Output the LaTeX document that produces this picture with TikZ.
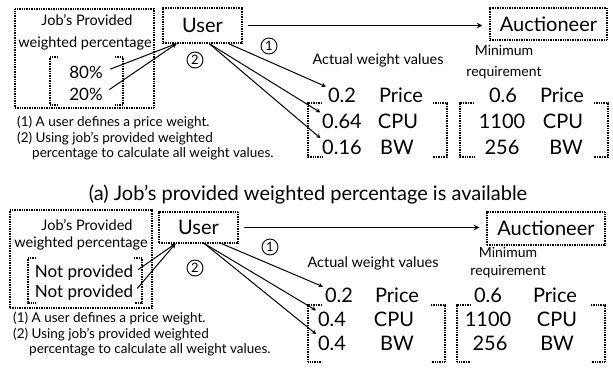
\documentclass[tikz,border=0pt]{standalone}
\usepackage{fontspec}
\setmainfont{Lato}
\usetikzlibrary{positioning,arrows,calc}

\newcommand{\drawbrackets}[2]{%
  \draw[brk] ([xshift=#2]#1.north west) -- (#1.north west) -- (#1.south west) -- ([xshift=#2]#1.south west);
  \draw[brk] ([xshift=-#2]#1.north east) -- (#1.north east) -- (#1.south east) -- ([xshift=-#2]#1.south east);}

\begin{document}
\begin{tikzpicture}[x=1pt,y=-1pt,
dotbox/.style={draw, line width=1.1pt, dash pattern=on 1pt off 0.7pt},
brk/.style={line width=1.1pt, dash pattern=on 1pt off 0.7pt},
blank/.style={inner sep=0pt, outer sep=0pt},
big/.style={font=\fontsize{20}{24}\selectfont, inner sep=0pt},
mid/.style={font=\fontsize{17}{20}\selectfont, inner sep=0pt},
small/.style={font=\fontsize{14.5}{16}\selectfont, inner sep=0pt},
note/.style={font=\fontsize{13.5}{16}\selectfont, anchor=west, inner sep=0pt},
num/.style={circle, draw, line width=0.9pt, inner sep=0pt, minimum size=16pt, font=\fontsize{13}{13}\selectfont},
link/.style={-stealth, line width=1pt},
]
\useasboundingbox (0,0) rectangle (613,370);

% (a) weighted percentage given
\node[dotbox, blank, minimum width=139pt, minimum height=99pt] (jobA) at (84.5,58.5) {};
\node[small] (jobtA) at (87,20) {Job's Provided};
\node[small] (jobwA) at (85,43) {weighted percentage};
\node[blank, minimum width=73pt, minimum height=48pt] (pctA) at (86.5,81) {};
\drawbrackets{pctA}{8pt}
\node[mid] (pA1) at (86,72) {80\%};
\node[mid] (pA2) at (86,94) {20\%};
\node[dotbox, big, minimum width=79pt, minimum height=35pt] (userA) at (202.5,25.5) {User};
\node[dotbox, big, minimum width=117pt, minimum height=32pt] (aucA) at (548.5,24) {Auctioneer};
\draw[link, line width=1.5pt, shorten <=5pt, shorten >=7pt] (userA.east) -- (userA.east -| aucA.west);
\node[num] (oneA) at (269,46) {1};
\node[num] (twoA) at (195,60) {2};
\draw[link, shorten <=8pt] (pA1.east) -- (userA.215);
\draw[link, shorten <=8pt] (pA2.east) -- (userA.215);
\node[note] (noteA1) at (17,122) {(1) A user defines a price weight.};
\node[note] (noteA2) at (17,138) {(2) Using job's provided weighted};
\node[note] (noteA3) at (32,154) {percentage to calculate all weight values.};
\node[small] (actA) at (378,60) {Actual weight values};
\node[small, align=center, font=\fontsize{14}{21}\selectfont] (minA) at (504,62) {Minimum\\requirement};
\node[blank, minimum width=139pt, minimum height=54pt] (tabA) at (377.5,130) {};
\drawbrackets{tabA}{14pt}
\node[big] (vA1) at (342,95) {0.2};
\node[big] (kA1) at (401,95) {Price};
\node[big] (vA2) at (342,121) {0.64};
\node[big] (kA2) at (398,121) {CPU};
\node[big] (vA3) at (342,147) {0.16};
\node[big] (kA3) at (397,147) {BW};
\node[blank, minimum width=148pt, minimum height=54pt] (minTabA) at (534,130) {};
\drawbrackets{minTabA}{14pt}
\node[big] (mA1) at (503,95) {0.6};
\node[big] (mkA1) at (562,95) {Price};
\node[big] (mA2) at (502,121) {1100};
\node[big] (mkA2) at (563,121) {CPU};
\node[big] (mA3) at (502,147) {256};
\node[big] (mkA3) at (566,147) {BW};
\draw[link, shorten >=2pt] (userA.325) -- (vA1.north west);
\draw[link, shorten >=2pt] (userA.290) -- (vA2.north west);
\draw[link, shorten >=2pt] (userA.290) -- (vA3.north west);

\node[big] (capA) at (308,195) {(a) Job's provided weighted percentage is available};

% (b) weighted percentage not given
\node[dotbox, blank, minimum width=142pt, minimum height=98pt] (jobB) at (81,259) {};
\node[small] (jobtB) at (87,225) {Job's Provided};
\node[small] (jobwB) at (81,243) {weighted percentage};
\node[blank, minimum width=114pt, minimum height=45pt] (pctB) at (85,280.5) {};
\drawbrackets{pctB}{8pt}
\node[mid] (pB1) at (84,273) {Not provided};
\node[mid] (pB2) at (84,293) {Not provided};
\node[dotbox, big, minimum width=79pt, minimum height=31pt] (userB) at (198.5,227.5) {User};
\node[dotbox, big, minimum width=118pt, minimum height=33pt] (aucB) at (546,228.5) {Auctioneer};
\draw[link, line width=1.5pt, shorten <=5pt, shorten >=7pt] (userB.east) -- (userB.east -| aucB.west);
\node[num] (oneB) at (270,247) {1};
\node[num] (twoB) at (195,268) {2};
\draw[link, shorten <=6pt] (pB1.east) -- (userB.215);
\draw[link, shorten <=6pt] (pB2.east) -- (userB.215);
\node[note] (noteB1) at (13,318) {(1) A user defines a price weight.};
\node[note] (noteB2) at (13,334) {(2) Using job's provided weighted};
\node[note] (noteB3) at (29,350) {percentage to calculate all weight values.};
\node[small] (actB) at (373,263) {Actual weight values};
\node[small, align=center, font=\fontsize{14}{18}\selectfont] (minB) at (508,263) {Minimum\\requirement};
\node[blank, minimum width=137pt, minimum height=57pt] (tabB) at (376.5,333.5) {};
\drawbrackets{tabB}{14pt}
\node[big] (vB1) at (339,295) {0.2};
\node[big] (kB1) at (397,295) {Price};
\node[big] (vB2) at (332,319) {0.4};
\node[big] (kB2) at (394,319) {CPU};
\node[big] (vB3) at (332,343) {0.4};
\node[big] (kB3) at (397,343) {BW};
\node[blank, minimum width=148pt, minimum height=57pt] (minTabB) at (531,333.5) {};
\drawbrackets{minTabB}{14pt}
\node[big] (mB1) at (488,295) {0.6};
\node[big] (mkB1) at (555,295) {Price};
\node[big] (mB2) at (488,319) {1100};
\node[big] (mkB2) at (557,319) {CPU};
\node[big] (mB3) at (490,343) {256};
\node[big] (mkB3) at (557,343) {BW};
\draw[link, shorten >=2pt] (userB.325) -- (vB1.north west);
\draw[link, shorten >=2pt] (userB.290) -- (vB2.north west);
\draw[link, shorten >=2pt] (userB.290) -- (vB3.north west);
\end{tikzpicture}
\end{document}
